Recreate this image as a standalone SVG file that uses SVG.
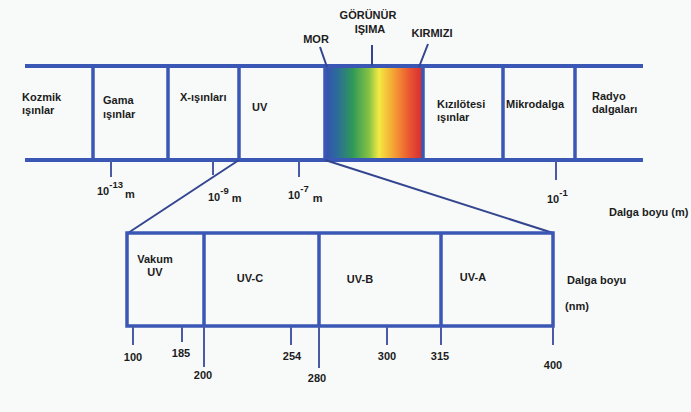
<svg xmlns="http://www.w3.org/2000/svg" width="691" height="412" viewBox="0 0 691 412">
<style>
  text{font-family:"Liberation Sans",Arial,sans-serif;font-weight:bold;font-size:11px;fill:#1c1c1c}
  .band{stroke:#3a57b5;stroke-width:4;fill:none}
  .div{stroke:#3a57b5;stroke-width:3.5;fill:none}
  .tick{stroke:#4a5aa6;stroke-width:2;fill:none}
  .conn{stroke:#34458f;stroke-width:2;fill:none}
  .m{text-anchor:middle}
  .sup{font-size:9.5px}
</style>
<defs>
  <linearGradient id="spec" x1="0" y1="0" x2="1" y2="0">
    <stop offset="0" stop-color="#3550b0"/>
    <stop offset="0.12" stop-color="#2c6a9c"/>
    <stop offset="0.28" stop-color="#2e9858"/>
    <stop offset="0.45" stop-color="#86c244"/>
    <stop offset="0.55" stop-color="#f2ea44"/>
    <stop offset="0.7" stop-color="#f4a233"/>
    <stop offset="0.85" stop-color="#ec5a32"/>
    <stop offset="1" stop-color="#d42a32"/>
  </linearGradient>
</defs>
<rect x="0" y="0" width="691" height="412" fill="#f8fafa"/>

<g id="spectrum-band">
  <rect x="325" y="66" width="98" height="94" fill="url(#spec)"/>
  <line class="band" x1="25" y1="66" x2="643" y2="66"/>
  <line class="band" x1="25" y1="160" x2="643" y2="160"/>
</g>

<g id="kozmik">
  <text x="22" y="101">Kozmik</text>
  <text x="22" y="114">ışınlar</text>
</g>
<g id="gama">
  <line class="div" x1="93" y1="66" x2="93" y2="160"/>
  <text x="103" y="104">Gama</text>
  <text x="103" y="118">ışınlar</text>
</g>
<g id="x-isinlari">
  <line class="div" x1="168" y1="66" x2="168" y2="160"/>
  <text x="180" y="101">X-ışınları</text>
</g>
<g id="uv">
  <line class="div" x1="239" y1="66" x2="239" y2="160"/>
  <text x="252" y="111">UV</text>
</g>
<g id="gorunur">
  <line class="div" x1="325" y1="66" x2="325" y2="160"/>
  <line class="div" x1="423" y1="66" x2="423" y2="160"/>
  <text class="m" x="368" y="19">GÖRÜNÜR</text>
  <text class="m" x="370" y="33">IŞIMA</text>
  <line class="conn" x1="372" y1="45" x2="372" y2="66"/>
  <text class="m" x="316" y="43">MOR</text>
  <line class="conn" x1="320" y1="47" x2="327" y2="67"/>
  <text class="m" x="432" y="37">KIRMIZI</text>
  <line class="conn" x1="428" y1="44" x2="419" y2="67"/>
</g>
<g id="kizilotesi">
  <text x="437" y="108">Kızılötesi</text>
  <text x="437" y="121">ışınlar</text>
</g>
<g id="mikrodalga">
  <line class="div" x1="503" y1="66" x2="503" y2="160"/>
  <text x="506" y="108">Mikrodalga</text>
</g>
<g id="radyo">
  <line class="div" x1="575" y1="66" x2="575" y2="160"/>
  <text x="592" y="100">Radyo</text>
  <text x="592" y="113">dalgaları</text>
</g>

<g id="top-scale">
  <line class="tick" x1="111" y1="160" x2="111" y2="177"/>
  <text x="97" y="195">10<tspan class="sup" dy="-7">-13</tspan><tspan dx="2" dy="10">m</tspan></text>
  <line class="tick" x1="213" y1="160" x2="213" y2="175"/>
  <text x="208" y="201">10<tspan class="sup" dy="-7">-9</tspan><tspan dx="3" dy="8">m</tspan></text>
  <line class="tick" x1="299" y1="160" x2="299" y2="177"/>
  <text x="288" y="199">10<tspan class="sup" dy="-7">-7</tspan><tspan dx="4" dy="10">m</tspan></text>
  <line class="tick" x1="556" y1="160" x2="556" y2="180"/>
  <text x="547" y="203">10<tspan class="sup" dy="-7">-1</tspan></text>
  <text x="609" y="216">Dalga boyu (m)</text>
</g>

<g id="connectors">
  <line class="conn" x1="239" y1="160" x2="128" y2="233"/>
  <line class="conn" x1="325" y1="160" x2="553" y2="233"/>
</g>

<g id="uv-box">
  <rect x="127" y="233" width="426" height="93" class="div"/>
</g>
<g id="vakum-uv">
  <text class="m" x="155" y="263">Vakum</text>
  <text class="m" x="155" y="276">UV</text>
</g>
<g id="uv-c">
  <line class="div" x1="204" y1="233" x2="204" y2="326"/>
  <text class="m" x="250" y="282">UV-C</text>
</g>
<g id="uv-b">
  <line class="div" x1="319" y1="233" x2="319" y2="326"/>
  <text class="m" x="360" y="283">UV-B</text>
</g>
<g id="uv-a">
  <line class="div" x1="441" y1="233" x2="441" y2="326"/>
  <text class="m" x="473" y="281">UV-A</text>
</g>
<g id="nm-scale">
  <line class="tick" x1="553" y1="326" x2="553" y2="345"/>
  <line class="tick" x1="133" y1="326" x2="133" y2="345"/>
  <line class="tick" x1="182" y1="326" x2="182" y2="342"/>
  <line class="tick" x1="204" y1="326" x2="204" y2="367"/>
  <line class="tick" x1="291" y1="326" x2="291" y2="345"/>
  <line class="tick" x1="319" y1="326" x2="319" y2="368"/>
  <line class="tick" x1="387" y1="326" x2="387" y2="345"/>
  <line class="tick" x1="441" y1="326" x2="441" y2="345"/>
  <text class="m" x="133" y="361">100</text>
  <text class="m" x="181" y="357">185</text>
  <text class="m" x="203" y="379">200</text>
  <text class="m" x="292" y="360">254</text>
  <text class="m" x="317" y="382">280</text>
  <text class="m" x="387" y="360">300</text>
  <text class="m" x="440" y="360">315</text>
  <text class="m" x="553" y="369">400</text>
  <text x="567" y="284">Dalga boyu</text>
  <text x="565" y="310">(nm)</text>
</g>
</svg>
